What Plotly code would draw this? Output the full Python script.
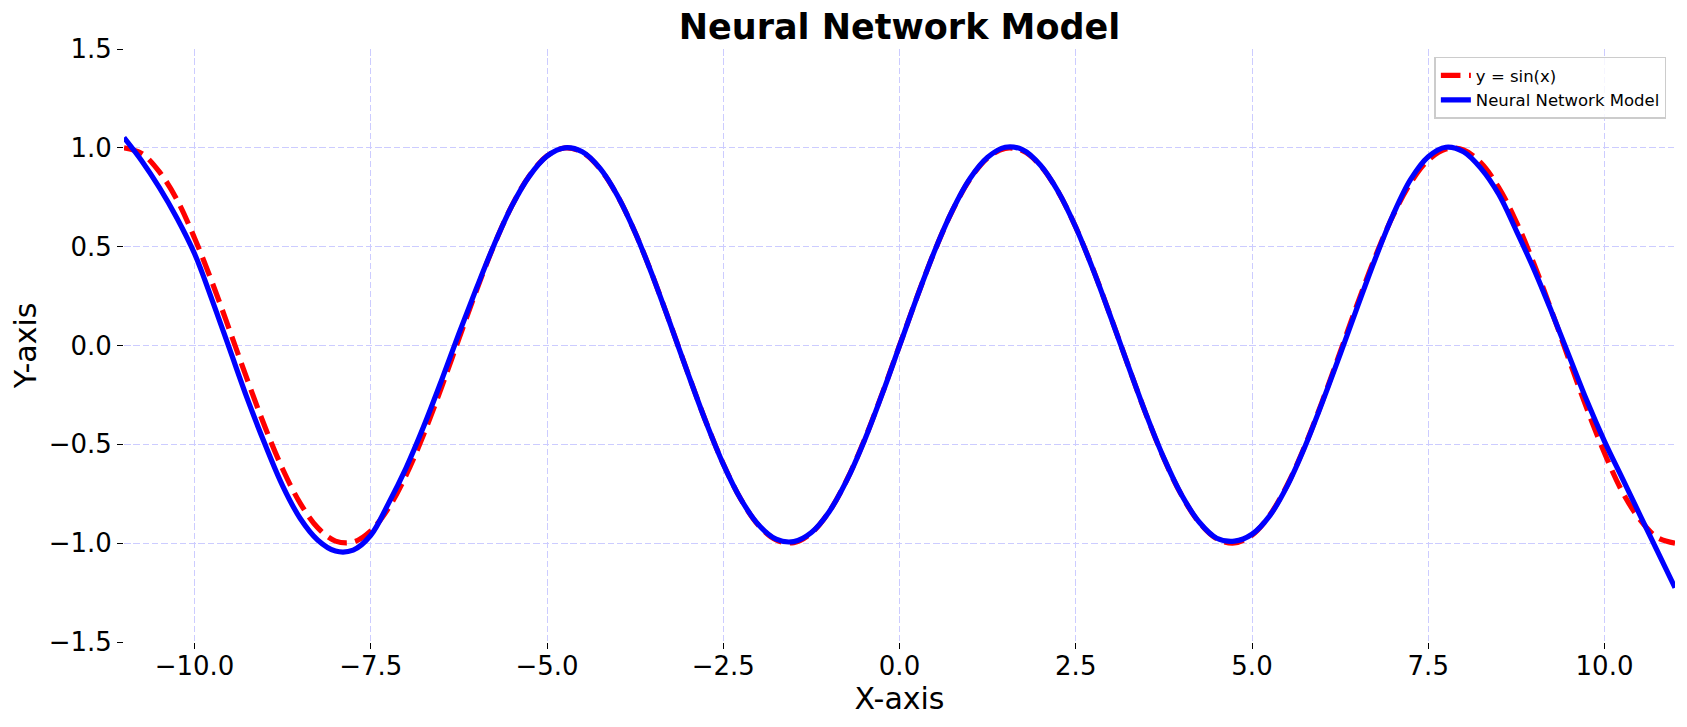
import plotly.graph_objects as go

# ---- data ----
x_vals = [-11.0, -10.75, -10.5, -10.25, -10.0, -9.75, -9.5, -9.25, -9.0, -8.75,
          -8.5, -8.25, -8.0, -7.75, -7.5, -7.25, -7.0, -6.75, -6.5, -6.25,
          -6.0, -5.75, -5.5, -5.25, -5.0, -4.75, -4.5, -4.25, -4.0, -3.75,
          -3.5, -3.25, -3.0, -2.75, -2.5, -2.25, -2.0, -1.75, -1.5, -1.25,
          -1.0, -0.75, -0.5, -0.25, 0.0, 0.25, 0.5, 0.75, 1.0, 1.25,
          1.5, 1.75, 2.0, 2.25, 2.5, 2.75, 3.0, 3.25, 3.5, 3.75,
          4.0, 4.25, 4.5, 4.75, 5.0, 5.25, 5.5, 5.75, 6.0, 6.25,
          6.5, 6.75, 7.0, 7.25, 7.5, 7.75, 8.0, 8.25, 8.5, 8.75,
          9.0, 9.25, 9.5, 9.75, 10.0, 10.25, 10.5, 10.75, 11.0]

sin_vals = [1.0, 0.9717, 0.8797, 0.7386, 0.544, 0.3195, 0.0752, -0.1743, -0.4121, -0.6247,
            -0.7985, -0.9228, -0.9894, -0.9946, -0.938, -0.8231, -0.657, -0.45, -0.2151, 0.0332,
            0.2794, 0.5083, 0.7055, 0.8589, 0.9589, 0.9993, 0.9775, 0.895, 0.7568, 0.5716,
            0.3508, 0.1082, -0.1411, -0.3817, -0.5985, -0.7781, -0.9093, -0.984, -0.9975, -0.949,
            -0.8415, -0.6816, -0.4794, -0.2474, 0.0, 0.2474, 0.4794, 0.6816, 0.8415, 0.949,
            0.9975, 0.984, 0.9093, 0.7781, 0.5985, 0.3817, 0.1411, -0.1082, -0.3508, -0.5716,
            -0.7568, -0.895, -0.9775, -0.9993, -0.9589, -0.8589, -0.7055, -0.5083, -0.2794, -0.0332,
            0.2151, 0.45, 0.657, 0.8231, 0.938, 0.9946, 0.9894, 0.9228, 0.7985, 0.6247,
            0.4121, 0.1743, -0.0752, -0.3195, -0.544, -0.7386, -0.8797, -0.9717, -1.0]

nn_vals = [1.052, 0.935, 0.80, 0.645, 0.465, 0.23, -0.02, -0.27, -0.50, -0.71,
           -0.875, -0.985, -1.04, -1.035, -0.96, -0.80, -0.62, -0.41, -0.18, 0.06,
           0.29, 0.51, 0.705, 0.857, 0.958, 1.0, 0.98, 0.897, 0.758, 0.572,
           0.35, 0.107, -0.142, -0.383, -0.6, -0.778, -0.907, -0.98, -0.992, -0.946,
           -0.842, -0.684, -0.483, -0.25, -0.002, 0.246, 0.48, 0.684, 0.845, 0.952,
           1.003, 0.99, 0.912, 0.779, 0.598, 0.38, 0.14, -0.108, -0.35, -0.57,
           -0.755, -0.893, -0.975, -0.99, -0.955, -0.862, -0.71, -0.512, -0.285, -0.045,
           0.2, 0.44, 0.66, 0.84, 0.955, 1.003, 0.98, 0.895, 0.765, 0.58,
           0.385, 0.17, -0.055, -0.28, -0.485, -0.67, -0.855, -1.04, -1.225]

x_tick_vals = [-10.0, -7.5, -5.0, -2.5, 0.0, 2.5, 5.0, 7.5, 10.0]
x_tick_text = ["\u221210.0", "\u22127.5", "\u22125.0", "\u22122.5", "0.0", "2.5", "5.0", "7.5", "10.0"]
y_tick_vals = [-1.5, -1.0, -0.5, 0.0, 0.5, 1.0, 1.5]
y_tick_text = ["\u22121.5", "\u22121.0", "\u22120.5", "0.0", "0.5", "1.0", "1.5"]

FONT = "DejaVu Sans"
W, H = 1671, 711  # page body has an 8px margin

fig = go.Figure()
fig.add_trace(go.Scatter(
    x=x_vals, y=sin_vals, mode="lines", name="y = sin(x)",
    line=dict(color="rgb(255,0,0)", width=5.2, dash="19.6px,8.5px", shape="spline", smoothing=1.0),
))
fig.add_trace(go.Scatter(
    x=x_vals, y=nn_vals, mode="lines", name="Neural Network Model",
    line=dict(color="rgb(0,0,255)", width=5.2, shape="spline", smoothing=1.0),
))

axis_common = dict(
    showline=False, zeroline=False, showgrid=True,
    gridcolor="rgb(204,204,255)", gridwidth=1.4, griddash="6.5px,2.8px",
    ticks="outside", ticklen=6, tickwidth=1.4, tickcolor="black",
    tickfont=dict(family=FONT, size=26, color="black"),
)

fig.update_layout(
    width=W, height=H,
    paper_bgcolor="white", plot_bgcolor="white",
    margin=dict(l=115.5, r=3.5, t=41, b=77.3, autoexpand=False),
    title=dict(text="Neural Network Model", x=(891.5) / W, xanchor="center",
               y=1 - 19 / H, yref="container", yanchor="middle",
               font=dict(family=FONT, size=35, color="black", weight="bold")),
    xaxis=dict(range=[-11, 11], tickvals=x_tick_vals, ticktext=x_tick_text,
               ticklabelstandoff=-5,
               title=dict(text="X-axis", font=dict(family=FONT, size=30, color="black"), standoff=1),
               **axis_common),
    yaxis=dict(range=[-1.5, 1.5], tickvals=y_tick_vals, ticktext=y_tick_text,
               title=dict(text="Y-axis", font=dict(family=FONT, size=30, color="black"), standoff=8.5),
               **axis_common),
    legend=dict(x=0.9945, xanchor="right", y=0.987, yanchor="top",
                bgcolor="rgba(255,255,255,0.8)", bordercolor="rgb(204,204,204)", borderwidth=1.4,
                font=dict(family=FONT, size=16.5, color="black"), itemwidth=30),
    showlegend=True,
)

fig.write_html("out.html")
